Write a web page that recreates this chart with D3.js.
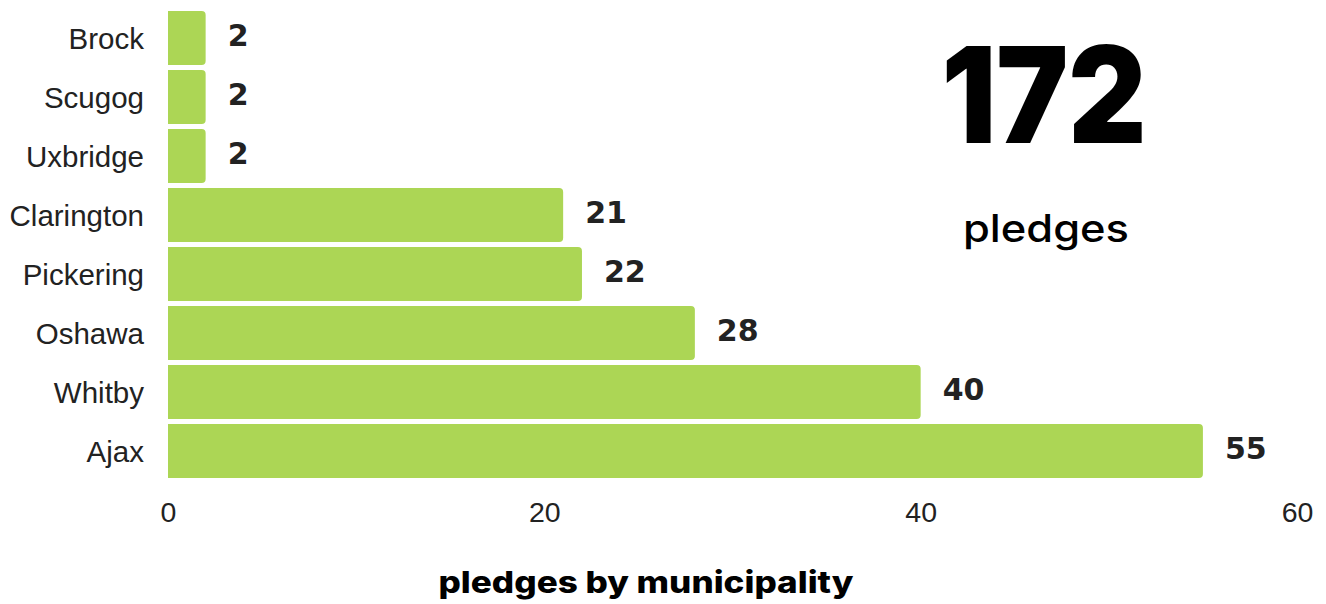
<!DOCTYPE html>
<html>
<head>
<meta charset="utf-8">
<script src="https://cdn.jsdelivr.net/npm/d3@7"></script>
<style>
  html, body { margin: 0; padding: 0; background: #fff; }
  svg { display: block; }
</style>
</head>
<body>
<svg id="chart" width="1326" height="604"></svg>
<script>
const categories = ["Brock", "Scugog", "Uxbridge", "Clarington", "Pickering", "Oshawa", "Whitby", "Ajax"];
const values = [2, 2, 2, 21, 22, 28, 40, 55];
const xTicks = [0, 20, 40, 60];
const totalLabel = "172";
const totalCaption = "pledges";
const chartTitle = "pledges by municipality";

const svg = d3.select("#chart");

const x = d3.scaleLinear().domain([0, 60]).range([168, 1297]);
const y = d3.scaleBand().domain(categories).range([11, 478]).paddingInner(0.085).paddingOuter(0);

const barColor = "#acd655";
const textColor = "#222222";

// bars with rounded right corners
function barPath(x0, x1, y0, h, r) {
  r = Math.min(r, (x1 - x0) / 2, h / 2);
  return `M${x0},${y0}H${x1 - r}Q${x1},${y0} ${x1},${y0 + r}V${y0 + h - r}Q${x1},${y0 + h} ${x1 - r},${y0 + h}H${x0}Z`;
}

const data = categories.map((c, i) => ({ c, v: values[i] }));

svg.append("g").selectAll("path").data(data).join("path")
  .attr("d", d => barPath(x(0), x(d.v), y(d.c), y.bandwidth(), 4))
  .attr("fill", barColor);

// value labels
svg.append("g").selectAll("text").data(data).join("text")
  .attr("x", d => x(d.v) + 22)
  .attr("y", d => y(d.c) + y.bandwidth() / 2 + 8)
  .attr("font-family", "'DejaVu Sans', sans-serif")
  .attr("font-weight", 700)
  .attr("font-size", 30)
  .attr("fill", textColor)
  .text(d => d.v);

// y axis labels
const yAxis = d3.axisLeft(y).tickSize(0).tickPadding(24);
const yg = svg.append("g").attr("transform", `translate(${x(0)},0)`).call(yAxis);
yg.select(".domain").remove();
yg.selectAll("text")
  .attr("font-family", "'Liberation Sans', Arial, sans-serif")
  .attr("font-size", 29.5)
  .attr("fill", textColor)
  .attr("dy", "0.36em");

// x axis
const xAxis = d3.axisBottom(x).tickValues(xTicks).tickSize(0).tickPadding(0);
const xg = svg.append("g").attr("transform", `translate(0,500)`).call(xAxis);
xg.select(".domain").remove();
xg.selectAll("text")
  .attr("font-family", "'Liberation Sans', Arial, sans-serif")
  .attr("font-size", 28.5)
  .attr("fill", textColor)
  .attr("dy", 22);

// big total
svg.append("text")
  .attr("x", 1044).attr("y", 143)
  .attr("text-anchor", "middle")
  .attr("font-family", "Inter, 'Liberation Sans', sans-serif")
  .attr("font-weight", 900)
  .attr("font-size", 134)
  .attr("textLength", 205)
  .attr("lengthAdjust", "spacingAndGlyphs")
  .attr("fill", "#000")
  .text(totalLabel);

svg.append("text")
  .attr("x", 1046).attr("y", 242)
  .attr("text-anchor", "middle")
  .attr("font-family", "Inter, 'Liberation Sans', sans-serif")
  .attr("font-weight", 500)
  .attr("font-size", 38)
  .attr("textLength", 166)
  .attr("lengthAdjust", "spacingAndGlyphs")
  .attr("fill", "#000")
  .text(totalCaption);

// title
svg.append("text")
  .attr("x", 646).attr("y", 593)
  .attr("text-anchor", "middle")
  .attr("font-family", "Inter, 'Liberation Sans', sans-serif")
  .attr("font-weight", 800)
  .attr("font-size", 30)
  .attr("textLength", 415)
  .attr("lengthAdjust", "spacingAndGlyphs")
  .attr("fill", "#000")
  .text(chartTitle);
</script>
</body>
</html>
